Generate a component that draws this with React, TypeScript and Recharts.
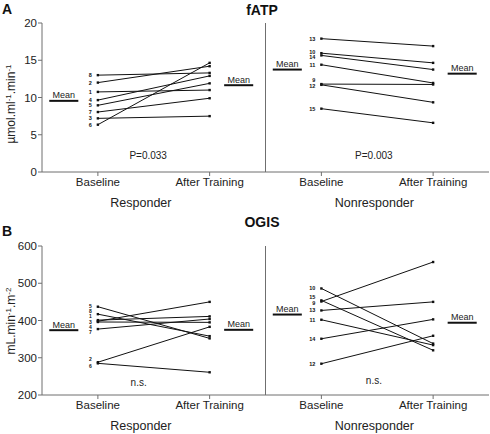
import React from "react";
import { ComposedChart, Line, XAxis, YAxis, ReferenceLine, ReferenceDot } from "recharts";

// fATP, responders (subject id, baseline, after training)
const fatpRespIds = ["8", "2", "1", "4", "5", "7", "3", "6"];
const fatpRespBaseline = [13.0, 12.0, 10.75, 9.65, 8.95, 8.05, 7.2, 6.35];
const fatpRespAfter = [13.3, 14.2, 11.0, 12.9, 11.9, 9.9, 7.5, 14.65];
const fatpRespMean = [9.55, 11.65];

// fATP, nonresponders
const fatpNonIds = ["13", "10", "14", "11", "9", "12", "15"];
const fatpNonBaseline = [17.9, 15.95, 15.65, 14.4, 11.8, 11.7, 8.5];
const fatpNonAfter = [16.9, 14.65, 13.75, 11.95, 11.75, 9.35, 6.6];
const fatpNonMean = [13.75, 13.2];

// OGIS, responders
const ogisRespIds = ["5", "8", "1", "3", "4", "7", "2", "6"];
const ogisRespBaseline = [437, 417, 401, 398, 396, 377, 288, 285];
const ogisRespAfter = [352, 358, 411, 450, 395, 404, 383, 261];
const ogisRespMean = [374, 375];

// OGIS, nonresponders
const ogisNonIds = ["10", "15", "9", "13", "11", "14", "12"];
const ogisNonBaseline = [486, 454, 451, 427, 402, 351, 284];
const ogisNonAfter = [338, 320, 557, 450, 334, 403, 359];
const ogisNonMean = [416, 394];

const timepoints = ["Baseline", "After Training"];
const groups = ["Responder", "Nonresponder"];
const fatpTicks = [0, 5, 10, 15, 20];
const ogisTicks = [200, 300, 400, 500, 600];
const fatpStats = ["P=0.033", "P=0.003"];
const ogisStats = ["n.s.", "n.s."];

const FONT = '"Liberation Sans", Arial, Helvetica, sans-serif';
const AXIS = "#6f6f6f";
const INK = "#111";
const TEXT = "#222";

type Panel = {
  ids: string[];
  base: number[];
  after: number[];
  mean: number[];
  nudge?: Record<string, number>;
  idSize?: number;
};

function subjectDot(id: string, dy: number, size: number) {
  return (p: any) => (
    <g key={`d-${id}-${p.index}`}>
      <rect x={p.cx - 1.2} y={p.cy - 1.2} width={2.4} height={2.4} fill={INK} />
      {p.index === 0 && (
        <text
          x={p.cx - 6}
          y={p.cy + dy}
          textAnchor="end"
          dominantBaseline="central"
          fontSize={size}
          fontWeight="bold"
          fill={INK}
        >
          {id}
        </text>
      )}
    </g>
  );
}

const meanDot = (key: string) => (p: any) =>
  p.index === 1 ? (
    <text key={`m-${key}`} x={p.cx} y={p.cy - 2.5} textAnchor="middle" fontSize={9} fill={TEXT}>
      Mean
    </text>
  ) : (
    <g key={`m-${key}-${p.index}`} />
  );

const groupDx = [43, 53];

function XTick(props: any) {
  const { x, y, payload } = props;
  const v = payload.value as number;
  const first = v % 4 === 1;
  const g = Math.floor(v / 4);
  return (
    <g>
      <text x={x} y={y} dy="0.71em" textAnchor="middle" fontSize={11.5} fill={TEXT}>
        {timepoints[first ? 0 : 1]}
      </text>
      {first && (
        <text x={x + groupDx[g]} y={y + 20} dy="0.71em" textAnchor="middle" fontSize={12.5} fill={TEXT}>
          {groups[g]}
        </text>
      )}
    </g>
  );
}

function Row({
  top,
  plotTop,
  axisH,
  domain,
  ticks,
  panels,
  stats,
  statPos,
}: {
  top: number;
  plotTop: number;
  axisH: number;
  domain: [number, number];
  ticks: number[];
  panels: Panel[];
  stats: string[];
  statPos: { x: number; y: number }[];
}) {
  const lines: React.ReactNode[] = [];
  panels.forEach((pn, g) => {
    const off = g * 4;
    pn.ids.forEach((id, i) => {
      const data = [
        { x: off + 1, y: pn.base[i] },
        { x: off + 3, y: pn.after[i] },
      ];
      lines.push(
        <Line
          key={`s-${g}-${id}`}
          data={data}
          dataKey="y"
          type="linear"
          stroke={INK}
          strokeWidth={1}
          dot={subjectDot(id, pn.nudge?.[id] ?? 0, pn.idSize ?? 5.5)}
          activeDot={false}
          isAnimationActive={false}
        />
      );
    });
    const spans = [
      [off + 0.13, off + 0.39, off + 0.65],
      [off + 3.26, off + 3.52, off + 3.78],
    ];
    spans.forEach((sp, k) => {
      lines.push(
        <Line
          key={`mean-${g}-${k}`}
          data={sp.map((x) => ({ x, y: pn.mean[k] }))}
          dataKey="y"
          stroke={INK}
          strokeWidth={2}
          dot={meanDot(`${g}-${k}`)}
          activeDot={false}
          isAnimationActive={false}
        />
      );
    });
  });

  return (
    <div style={{ position: "absolute", left: 0, top }}>
      <ComposedChart width={490} height={217} margin={{ top: plotTop, right: 1, left: 0, bottom: 0 }}>
        <XAxis
          type="number"
          dataKey="x"
          domain={[0, 8]}
          ticks={[1, 3, 5, 7]}
          tick={<XTick />}
          tickSize={4}
          height={axisH}
          stroke={AXIS}
          allowDataOverflow
        />
        <YAxis
          type="number"
          domain={domain}
          ticks={ticks}
          width={42}
          tickSize={4}
          tickMargin={1}
          tick={{ fontSize: 11.5, fill: TEXT }}
          stroke={AXIS}
          allowDataOverflow
        />
        <ReferenceLine x={4} stroke={AXIS} strokeWidth={1} />
        {lines}
        {stats.map((s, i) => (
          <ReferenceDot
            key={`p-${i}`}
            x={statPos[i].x}
            y={statPos[i].y}
            r={0}
            fill="none"
            stroke="none"
            label={{ value: s, position: "center", fontSize: 10, fill: TEXT }}
          />
        ))}
      </ComposedChart>
    </div>
  );
}

export default function App() {
  return (
    <div
      style={{
        position: "absolute",
        left: 0,
        top: 0,
        width: 490,
        height: 434,
        background: "#fff",
        fontFamily: FONT,
      }}
    >
      <Row
        top={0}
        plotTop={23}
        axisH={45}
        domain={[0, 20]}
        ticks={fatpTicks}
        panels={[
          { ids: fatpRespIds, base: fatpRespBaseline, after: fatpRespAfter, mean: fatpRespMean },
          {
            ids: fatpNonIds,
            base: fatpNonBaseline,
            after: fatpNonAfter,
            mean: fatpNonMean,
            nudge: { "9": -4, "12": 1, "14": 2, "10": -1 },
          },
        ]}
        stats={fatpStats}
        statPos={[
          { x: 1.9, y: 2.2 },
          { x: 5.94, y: 2.2 },
        ]}
      />
      <Row
        top={217}
        plotTop={29}
        axisH={39}
        domain={[200, 600]}
        ticks={ogisTicks}
        panels={[
          {
            ids: ogisRespIds,
            base: ogisRespBaseline,
            after: ogisRespAfter,
            mean: ogisRespMean,
            idSize: 5,
            nudge: { "5": -0.5, "8": -2.9, "1": -3.7, "3": 0.4, "4": 4.8, "7": 2.9, "2": -3, "6": 2.5 },
          },
          {
            ids: ogisNonIds,
            base: ogisNonBaseline,
            after: ogisNonAfter,
            mean: ogisNonMean,
            nudge: { "15": -3, "9": 1.5 },
          },
        ]}
        stats={ogisStats}
        statPos={[
          { x: 1.73, y: 235 },
          { x: 5.94, y: 239 },
        ]}
      />
      <svg
        width={490}
        height={434}
        style={{ position: "absolute", left: 0, top: 0, pointerEvents: "none" }}
        fontFamily={FONT}
      >
        <text x={2} y={14} fontSize={14} fontWeight="bold" fill={INK}>A</text>
        <text x={262} y={15} fontSize={14} fontWeight="bold" textAnchor="middle" fill={INK}>fATP</text>
        <text x={2} y={236} fontSize={14} fontWeight="bold" fill={INK}>B</text>
        <text x={262} y={227} fontSize={14} fontWeight="bold" textAnchor="middle" fill={INK}>OGIS</text>
        <text transform="translate(15,104) rotate(-90)" textAnchor="middle" fontSize={12} fill={TEXT}>
          µmol.ml<tspan dy={-4} fontSize={8}>-1</tspan>
          <tspan dy={4}>.min</tspan>
          <tspan dy={-4} fontSize={8}>-1</tspan>
        </text>
        <text transform="translate(15,321) rotate(-90)" textAnchor="middle" fontSize={12} fill={TEXT}>
          mL.min<tspan dy={-4} fontSize={8}>-1</tspan>
          <tspan dy={4}>.m</tspan>
          <tspan dy={-4} fontSize={8}>-2</tspan>
        </text>
      </svg>
    </div>
  );
}
